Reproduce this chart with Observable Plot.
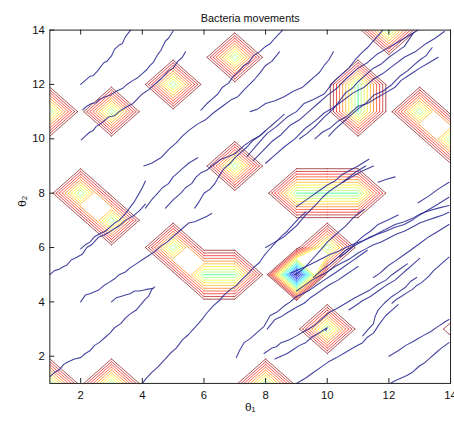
<!DOCTYPE html>
<html><head><meta charset="utf-8">
<script src="https://cdn.jsdelivr.net/npm/d3@7"></script>
<script src="https://cdn.jsdelivr.net/npm/@observablehq/plot@0.6"></script>
<style>html,body{margin:0;padding:0;background:#fff;overflow:hidden;}</style>
</head><body><div id="chart"></div>
<script>
const title = "Bacteria movements";
const xLabel = "θ₁";
const yLabel = "θ₂";
const xTicks = [2, 4, 6, 8, 10, 12, 14];
const yTicks = [2, 4, 6, 8, 10, 12, 14];
const gridSize = 14;
// attractant peaks on the integer grid (theta1, theta2, height); all other grid nodes are 0
const peakTheta1 = [1, 3, 5, 7, 12, 11, 11, 13, 14, 2, 3, 7, 9, 10, 11, 5, 6, 7, 9, 10, 10, 1, 3, 8, 14];
const peakTheta2 = [11, 11, 12, 13, 14, 11, 12, 11, 10, 8, 7, 9, 8, 8, 8, 6, 5, 5, 5, 6, 3, 1, 1, 1, 3];
const peakHeight = [1, 1, 1, 1, 1, 1, 1, 1, 1, 1, 1, 1, 1, 1, 1, 1, 1, 1, 1.85, 1, 1, 1, 1, 1, 0.13];
const levels = [0.1, 0.2, 0.3, 0.4, 0.5, 0.6, 0.7, 0.8, 0.9, 1.0, 1.1, 1.2, 1.3, 1.4, 1.5, 1.6, 1.7, 1.8];

// bacteria tracks, [theta1, theta2] points
const tracks = [
 [[2.0,12.0],[2.15,12.15],[2.3,12.3],[2.4,12.32],[2.55,12.5],[2.75,12.8],[2.85,12.85],[3.0,13.05],[3.1,13.3],[3.25,13.45],[3.35,13.5],[3.45,13.75],[3.62,14.0]],
 [[2.07,11.07],[2.2,11.2],[2.35,11.3],[2.5,11.33],[2.6,11.45],[2.8,11.55],[2.95,11.6],[3.15,11.75],[3.35,11.85],[3.5,12.0],[3.7,12.15],[3.85,12.25],[4.0,12.4],[4.15,12.55],[4.25,12.7],[4.35,12.8],[4.5,13.1],[4.6,13.25],[4.75,13.6],[4.85,13.7],[5.0,13.97]],
 [[2.02,9.96],[2.15,10.1],[2.3,10.25],[2.4,10.3],[2.5,10.45],[2.7,10.6],[2.9,10.8],[3.1,10.85],[3.25,11.0],[3.45,11.15],[3.7,11.3],[4.0,11.65],[4.2,11.8],[4.4,12.0],[4.6,12.2],[4.85,12.5],[5.0,12.6],[5.15,12.85],[5.3,13.0],[5.4,13.2]],
 [[4.05,9.0],[4.3,9.1],[4.6,9.3],[4.85,9.6],[5.1,9.85],[5.3,10.1],[5.5,10.3],[5.8,10.55],[6.05,10.7],[6.3,10.95],[6.6,11.2],[6.9,11.45],[7.1,11.55],[7.3,11.8],[7.65,12.2],[7.8,12.4],[8.0,12.7],[8.2,12.85],[8.45,13.2]],
 [[5.9,11.05],[6.1,11.3],[6.3,11.5],[6.45,11.65],[6.6,11.9],[6.8,12.05],[6.95,12.3],[7.15,12.5],[7.3,12.7],[7.45,12.8],[7.6,13.05],[7.8,13.2],[8.0,13.4],[8.15,13.5],[8.3,13.7],[8.55,14.0]],
 [[7.5,11.0],[7.75,11.1],[8.0,11.3],[8.3,11.4],[8.6,11.55],[8.9,11.75],[9.2,11.9],[9.4,12.1],[9.6,12.3],[9.75,12.45],[9.9,12.7],[10.05,12.9],[10.2,13.2]],
 [[7.4,9.35],[7.7,9.75],[8.05,10.2],[8.35,10.45],[8.7,10.8],[9.0,11.0],[9.25,11.3],[9.55,11.45],[9.9,11.65],[10.1,11.95],[10.25,12.15],[10.45,12.35],[10.7,12.6],[10.9,12.9],[11.15,13.2],[11.3,13.35],[11.5,13.6],[11.65,13.8],[11.8,14.0]],
 [[7.6,9.2],[7.9,9.55],[8.2,9.9],[8.5,10.15],[8.8,10.5],[9.1,10.7],[9.4,11.0],[9.7,11.3],[10.0,11.6],[10.3,11.85],[10.6,12.2],[10.8,12.4],[11.0,12.6],[11.3,12.8],[11.6,13.1],[11.9,13.3],[12.2,13.5],[12.5,13.7],[12.8,13.9],[12.95,14.0]],
 [[9.1,10.0],[9.35,10.2],[9.65,10.5],[9.9,10.8],[10.2,11.1],[10.4,11.4],[10.6,11.7],[10.8,11.85],[11.0,12.1],[11.25,12.35],[11.5,12.6],[11.75,12.75],[12.0,13.0],[12.25,13.2],[12.5,13.4],[12.65,13.65],[12.8,13.9]],
 [[9.6,10.0],[9.85,10.25],[10.1,10.4],[10.35,10.65],[10.6,10.8],[10.8,11.0],[11.0,11.2],[11.3,11.3],[11.6,11.5],[11.9,11.7],[12.2,11.9],[12.4,12.15],[12.6,12.3],[12.8,12.45],[13.0,12.6],[13.3,12.8],[13.6,13.0]],
 [[10.05,10.1],[10.25,10.35],[10.5,10.6],[10.75,10.85],[11.0,11.1],[11.25,11.3],[11.5,11.6],[11.8,11.75],[12.1,12.0],[12.35,12.3],[12.6,12.5],[12.8,12.7],[13.0,12.9],[13.2,13.05],[13.4,13.35]],
 [[8.0,9.1],[8.3,9.4],[8.6,9.7],[8.95,10.0],[9.3,10.4],[9.6,10.65],[9.9,10.95],[10.2,11.15],[10.5,11.4],[10.85,11.7],[11.2,11.9],[11.5,12.2],[11.8,12.4],[12.15,12.7],[12.5,13.0],[12.85,13.2],[13.2,13.5],[13.5,13.7],[13.8,13.95]],
 [[4.1,7.45],[4.3,7.75],[4.5,8.0],[4.65,8.2],[4.85,8.35],[5.0,8.6],[5.15,8.75],[5.3,8.9],[5.5,9.1],[5.8,9.3]],
 [[4.75,7.45],[5.0,7.75],[5.25,8.0],[5.4,8.2],[5.6,8.35],[5.75,8.6],[5.9,8.75],[6.1,8.85],[6.25,9.0],[6.55,9.25],[6.8,9.35],[7.0,9.45],[7.3,9.75],[7.55,9.95],[7.8,10.1],[8.0,10.3]],
 [[5.7,7.45],[5.85,7.7],[6.0,8.0],[6.2,8.15],[6.35,8.35],[6.5,8.65],[6.65,8.9],[6.85,9.1],[7.0,9.3],[7.2,9.5],[7.4,9.7],[7.6,9.95],[7.8,10.1],[8.0,10.3],[8.2,10.5],[8.4,10.7],[8.6,10.9]],
 [[1.0,5.0],[1.15,5.15],[1.3,5.2],[1.45,5.3],[1.55,5.35],[1.7,5.55],[1.8,5.6],[2.05,5.75],[2.2,6.0],[2.35,6.1],[2.6,6.4],[2.75,6.45],[2.9,6.55],[3.1,6.7],[3.25,6.8],[3.45,7.0],[3.6,7.1],[3.75,7.2],[3.9,7.35],[4.1,7.6]],
 [[2.0,5.95],[2.15,6.1],[2.3,6.2],[2.45,6.4],[2.6,6.5],[2.8,6.6],[2.95,6.75],[3.1,6.9],[3.25,7.0],[3.45,7.25],[3.65,7.55],[3.75,7.7],[3.85,7.9],[4.0,8.2],[4.1,8.45]],
 [[2.0,4.0],[2.15,4.25],[2.3,4.3],[2.6,4.45],[2.75,4.6],[2.9,4.7],[3.1,4.85],[3.25,5.0],[3.45,5.1],[3.6,5.25],[3.8,5.4],[4.0,5.55],[4.2,5.7],[4.4,5.85],[4.6,6.05],[4.8,6.2],[4.95,6.35],[5.1,6.5],[5.3,6.7],[5.5,6.9],[5.7,6.95],[5.9,7.05],[6.1,7.15],[6.25,7.25]],
 [[3.0,4.0],[3.15,4.15],[3.3,4.2],[3.45,4.25],[3.6,4.3],[3.75,4.4],[3.9,4.4],[4.1,4.45],[4.35,4.5]],
 [[1.0,1.25],[1.15,1.4],[1.3,1.5],[1.45,1.7],[1.6,1.8],[1.8,1.9],[2.0,1.95],[2.15,2.1],[2.3,2.2],[2.45,2.4],[2.6,2.5],[2.8,2.7],[2.95,2.85],[3.1,3.05],[3.3,3.2],[3.45,3.4],[3.6,3.55],[3.8,3.7],[3.95,3.9],[4.1,4.1],[4.2,4.2],[4.3,4.45],[4.4,4.55]],
 [[4.0,1.0],[4.1,1.15],[4.3,1.4],[4.5,1.6],[4.75,1.9],[4.9,2.1],[5.1,2.3],[5.3,2.6],[5.5,2.8],[5.7,3.05],[5.9,3.3],[6.1,3.6],[6.3,3.85],[6.5,4.05],[6.65,4.25],[6.85,4.45],[7.05,4.6],[7.25,4.85],[7.4,5.0],[7.6,5.25],[7.8,5.45],[7.95,5.7],[8.1,5.9],[8.3,6.15],[8.5,6.4],[8.7,6.6],[8.9,6.85],[9.1,7.1],[9.3,7.3]],
 [[8.0,6.0],[8.3,6.2],[8.6,6.4],[8.8,6.6],[9.0,6.8],[9.3,7.2],[9.65,7.6],[9.85,7.85],[10.1,8.1],[10.5,8.4],[10.95,8.8],[11.25,9.0]],
 [[9.0,7.5],[9.25,7.7],[9.5,7.9],[9.75,8.1],[10.0,8.3],[10.25,8.45],[10.5,8.7],[10.75,8.85],[11.0,9.0],[11.35,9.25]],
 [[10.5,8.4],[10.8,8.6],[11.1,8.8],[11.5,9.0]],
 [[11.65,8.4],[11.9,8.5],[12.2,8.6]],
 [[12.95,7.65],[13.3,7.9],[13.6,8.15],[13.95,8.4]],
 [[7.05,1.95],[7.15,2.2],[7.3,2.5],[7.5,2.65],[7.7,2.85],[7.95,3.1],[8.15,3.5],[8.4,3.65],[8.6,3.85],[8.8,4.0],[9.0,4.2],[9.2,4.3],[9.45,4.45],[9.7,4.65],[9.9,4.8],[10.1,4.95],[10.3,5.1],[10.55,5.3],[10.8,5.5],[11.05,5.7],[11.3,5.9]],
 [[7.95,2.1],[8.2,2.3],[8.35,2.35],[8.5,2.5],[8.75,2.6],[9.0,2.75],[9.3,2.95],[9.55,3.1],[9.8,3.35],[10.05,3.6],[10.3,3.75],[10.6,3.95],[10.9,4.15],[11.15,4.3],[11.4,4.45],[11.65,4.65],[11.9,4.8],[12.1,5.0],[12.35,5.2],[12.6,5.4]],
 [[9.0,1.0],[9.15,1.1],[9.3,1.2],[9.55,1.4],[9.8,1.6],[10.05,1.8],[10.3,1.95],[10.6,2.15],[10.9,2.35],[11.15,2.5],[11.3,2.7],[11.5,2.85],[11.7,3.2],[11.9,3.5],[12.1,3.7],[12.3,3.9]],
 [[8.05,3.0],[8.3,3.35],[8.5,3.45],[8.7,3.6],[9.0,3.8],[9.25,3.95],[9.45,4.15],[9.65,4.3],[9.9,4.5],[10.1,4.65],[10.35,4.8],[10.6,5.0],[10.8,5.15],[11.0,5.3]],
 [[8.3,1.9],[8.5,2.0],[8.7,2.1],[8.9,2.25],[9.1,2.4],[9.3,2.5],[9.5,2.7],[9.65,2.8],[9.8,2.9],[10.0,3.05],[9.95,2.95]],
 [[12.0,2.0],[12.15,2.1],[12.3,2.2],[12.55,2.4],[12.8,2.55],[12.95,2.65],[13.1,2.75],[13.35,2.9],[13.6,3.1],[13.8,3.25],[13.95,3.35]],
 [[12.05,1.0],[12.2,1.1],[12.4,1.2],[12.6,1.3],[12.75,1.4],[12.9,1.55],[13.0,1.65],[13.15,1.75],[13.3,1.9],[13.5,2.1],[13.7,2.3],[13.95,2.5]],
 [[12.1,3.95],[12.25,4.1],[12.4,4.2],[12.6,4.35],[12.75,4.45],[12.9,4.6],[13.05,4.7],[13.2,4.85],[13.3,4.95],[13.45,5.15],[13.6,5.3],[13.8,5.5],[13.95,5.65]],
 [[10.7,3.7],[10.9,3.85],[11.15,4.05],[11.4,4.2],[11.65,4.4],[11.9,4.6],[12.2,4.8],[12.4,5.0],[12.6,5.2],[12.8,5.4],[13.0,5.6]],
 [[11.15,2.75],[11.3,2.95],[11.5,3.2],[11.55,3.45],[11.65,3.7],[11.85,3.95],[12.1,4.2],[12.3,4.35],[12.55,4.55],[12.7,4.75],[12.9,4.9]],
 [[8.8,5.05],[9.1,5.2],[9.4,5.35],[9.75,5.55],[10.1,5.75],[10.35,5.85],[10.6,6.0],[10.9,6.15],[11.15,6.25],[11.45,6.4],[11.7,6.55],[11.95,6.7],[12.2,6.85],[12.5,6.95],[12.8,7.1],[13.05,7.25],[13.3,7.35],[13.6,7.45],[13.95,7.55]],
 [[9.55,4.9],[9.8,5.15],[10.1,5.4],[10.35,5.65],[10.6,5.9],[10.85,6.05],[11.1,6.2],[11.4,6.4],[11.65,6.5],[11.9,6.6],[12.2,6.75],[12.5,6.85],[12.75,7.0],[13.0,7.2],[13.3,7.4],[13.6,7.6],[13.95,7.85]],
 [[10.4,5.65],[10.6,5.8],[10.8,6.0],[10.95,6.2],[11.15,6.4],[11.4,6.6],[11.65,6.85],[11.95,7.0],[12.3,7.2]],
 [[11.5,4.9],[11.7,5.05],[11.85,5.2],[12.0,5.35],[12.2,5.5],[12.45,5.7],[12.7,5.9],[13.0,6.15],[13.3,6.4],[13.6,6.6],[13.95,6.85]],
 [[9.0,4.4],[9.25,4.6],[9.5,4.8],[9.75,4.95],[10.0,5.1],[10.25,5.3],[10.5,5.45],[10.75,5.6],[11.0,5.8],[11.25,5.95],[11.5,6.1],[11.75,6.2],[12.0,6.35],[12.25,6.5],[12.5,6.6],[12.75,6.75],[13.0,6.9],[13.25,7.0],[13.5,7.1],[13.75,7.2],[13.95,7.3]],
 [[8.95,5.0],[9.1,5.1],[9.3,5.3],[9.5,5.55],[9.7,5.8],[9.85,6.0],[10.0,6.2],[10.15,6.35],[10.3,6.5],[10.45,6.65],[10.6,6.8],[10.85,7.1],[11.0,7.25],[11.2,7.4]]
];

// ---- grid of attractant values ----
const grid = Array.from({length: gridSize}, () => new Array(gridSize).fill(0));
peakTheta1.forEach((x, k) => { grid[peakTheta2[k] - 1][x - 1] = peakHeight[k]; });

// ---- marching squares with linear edge interpolation (saddles resolved by cell mean) ----
const contourSegs = [];
for (const t of levels) {
  for (let j = 0; j < gridSize - 1; j++) {
    for (let i = 0; i < gridSize - 1; i++) {
      const P = [[i + 1, j + 1], [i + 2, j + 1], [i + 2, j + 2], [i + 1, j + 2]];
      const V = [grid[j][i], grid[j][i + 1], grid[j + 1][i + 1], grid[j + 1][i]];
      const H = V.map(v => v >= t);
      const E = [];
      for (let e = 0; e < 4; e++) {
        const p = e, q = (e + 1) % 4;
        if (H[p] !== H[q]) {
          const f = (t - V[p]) / (V[q] - V[p]);
          E[e] = [P[p][0] + f * (P[q][0] - P[p][0]), P[p][1] + f * (P[q][1] - P[p][1])];
        }
      }
      const have = [0, 1, 2, 3].filter(e => E[e]);
      const pairs = [];
      if (have.length === 2) pairs.push(have);
      else if (have.length === 4) {
        const center = (V[0] + V[1] + V[2] + V[3]) / 4;
        const cut = (k) => [(k + 3) % 4, k];
        const highs = H[0] ? [0, 2] : [1, 3];
        const lows = H[0] ? [1, 3] : [0, 2];
        (center >= t ? lows : highs).forEach(k => pairs.push(cut(k)));
      }
      for (const [e1, e2] of pairs) {
        const A = E[e1], B = E[e2];
        if (Math.hypot(A[0] - B[0], A[1] - B[1]) < 1e-9) continue;
        contourSegs.push({x1: A[0], y1: A[1], x2: B[0], y2: B[1], level: t});
      }
    }
  }
}

const trackPoints = tracks.flatMap((tr, id) => tr.map(([a, b]) => ({id, t1: a, t2: b})));

function jet(x) {
  const c = v => Math.max(0, Math.min(1, v));
  const r = c(1.5 - Math.abs(4 * x - 3)), g = c(1.5 - Math.abs(4 * x - 2)), b = c(1.5 - Math.abs(4 * x - 1));
  return `rgb(${Math.round(r * 255)},${Math.round(g * 255)},${Math.round(b * 255)})`;
}

const W = 460, Hh = 428, mL = 50, mR = 4, mT = 30, mB = 40;
const chart = Plot.plot({
  width: W, height: Hh, marginLeft: mL, marginRight: mR, marginTop: mT, marginBottom: mB,
  style: {fontFamily: "'Liberation Sans', Arial, sans-serif", fontSize: "11px", background: "white", color: "#111", overflow: "visible"},
  x: {domain: [1, 14], axis: null},
  y: {domain: [1, 14], axis: null},
  color: {type: "linear", domain: [levels[0], levels[levels.length - 1]], interpolate: (t) => jet(1 - t)},
  marks: [
    Plot.link(contourSegs, {x1: "x1", y1: "y1", x2: "x2", y2: "y2", stroke: "level", strokeWidth: 1, strokeOpacity: 0.68, strokeLinecap: "round"}),
    Plot.line(trackPoints, {x: "t1", y: "t2", z: "id", stroke: "#23238f", strokeWidth: 1.1, strokeOpacity: 0.85}),
    Plot.frame({stroke: "#222"}),
    Plot.tickX(xTicks, {x: d => d, insetTop: Hh - mT - mB - 5, stroke: "#222"}),
    Plot.tickX(xTicks, {x: d => d, insetBottom: Hh - mT - mB - 5, stroke: "#222"}),
    Plot.tickY(yTicks, {y: d => d, insetRight: W - mL - mR - 5, stroke: "#222"}),
    Plot.axisX({ticks: xTicks, tickSize: 0, tickPadding: 8, label: null, fontSize: 11.5}),
    Plot.axisY({ticks: yTicks, tickSize: 0, tickPadding: 5, label: null, fontSize: 11.5}),
    Plot.text([title], {text: d => d, frameAnchor: "top", dy: -16, fontSize: 11}),
    Plot.text([xLabel], {text: d => d, frameAnchor: "bottom", dy: 28, fontSize: 12}),
    Plot.text([yLabel], {text: d => d, frameAnchor: "left", dx: -28, rotate: -90, fontSize: 12})
  ]
});
document.getElementById("chart").appendChild(chart);
</script>
</body></html>
